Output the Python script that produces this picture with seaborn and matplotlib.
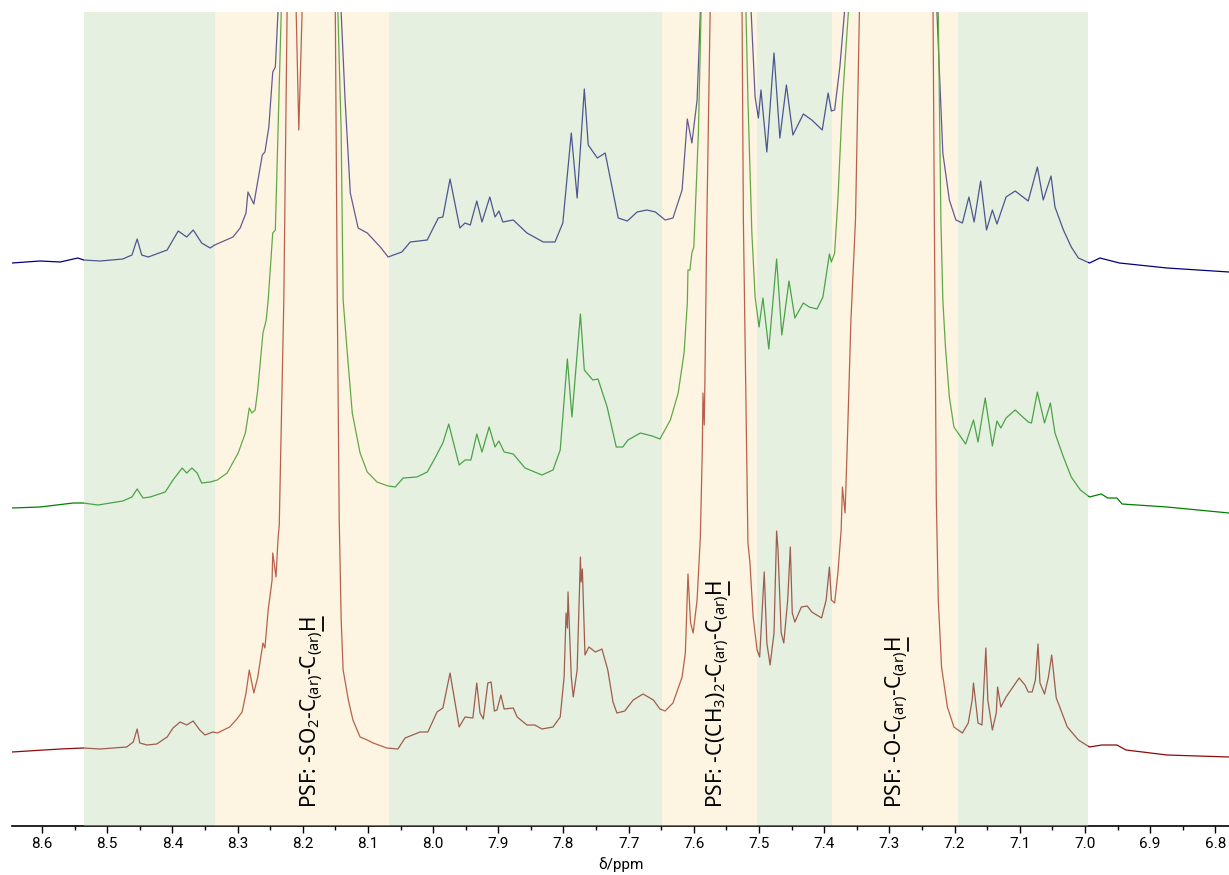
import matplotlib
matplotlib.use("Agg")
import matplotlib.pyplot as plt
import pandas as pd
import seaborn as sns
from matplotlib.lines import Line2D
from matplotlib.transforms import IdentityTransform
from matplotlib.ticker import MultipleLocator, FormatStrFormatter

# ---------------- data (ppm, stacked intensity) ----------------
blue_trace = [
    (8.646, 563), (8.603, 565), (8.572, 564), (8.545, 568), (8.536, 566), (8.511, 565), (8.476, 567), (8.462, 571), (8.454, 587), (8.447, 571),
    (8.437, 569), (8.408, 576), (8.391, 595), (8.378, 589), (8.368, 596), (8.355, 583), (8.342, 578), (8.335, 581), (8.307, 589), (8.296, 598),
    (8.287, 613), (8.284, 634), (8.275, 622), (8.262, 671), (8.258, 674), (8.252, 699), (8.246, 754), (8.242, 759), (8.238, 813), (8.235, 1400),
    (8.144, 1400), (8.141, 813), (8.135, 726), (8.127, 633), (8.115, 598), (8.101, 593), (8.081, 579), (8.069, 569), (8.048, 574), (8.035, 584),
    (8.009, 586), (7.992, 608), (7.985, 609), (7.974, 647), (7.959, 598), (7.951, 603), (7.943, 601), (7.933, 625), (7.925, 604), (7.913, 629),
    (7.905, 609), (7.899, 615), (7.893, 604), (7.877, 606), (7.856, 593), (7.831, 584), (7.813, 584), (7.801, 603), (7.788, 693), (7.779, 628),
    (7.768, 737), (7.762, 681), (7.748, 668), (7.736, 673), (7.716, 608), (7.702, 605), (7.687, 614), (7.672, 616), (7.659, 614), (7.644, 606),
    (7.632, 608), (7.618, 636), (7.610, 707), (7.603, 683), (7.595, 726), (7.590, 813), (7.587, 1400), (7.515, 1400), (7.512, 813), (7.506, 729),
    (7.501, 708), (7.497, 736), (7.488, 674), (7.477, 773), (7.468, 688), (7.458, 741), (7.448, 691), (7.432, 712), (7.419, 706), (7.403, 696),
    (7.394, 733), (7.389, 715), (7.384, 716), (7.376, 759), (7.369, 813), (7.366, 1400), (7.230, 1400), (7.227, 813), (7.218, 673), (7.208, 626),
    (7.198, 606), (7.188, 603), (7.178, 629), (7.170, 604), (7.160, 645), (7.151, 596), (7.142, 616), (7.135, 602), (7.121, 629), (7.107, 635),
    (7.087, 625), (7.073, 659), (7.064, 626), (7.052, 650), (7.046, 619), (7.033, 596), (7.021, 579), (7.010, 568), (6.993, 563), (6.977, 568),
    (6.947, 563), (6.874, 558), (6.779, 554),
]

green_trace = [
    (8.646, 318), (8.603, 319), (8.552, 323), (8.537, 323), (8.514, 321), (8.476, 325), (8.462, 329), (8.454, 337), (8.445, 328), (8.434, 329),
    (8.411, 334), (8.399, 346), (8.385, 358), (8.378, 353), (8.370, 358), (8.362, 353), (8.355, 343), (8.342, 344), (8.331, 346), (8.316, 353),
    (8.299, 373), (8.288, 393), (8.282, 418), (8.278, 413), (8.273, 416), (8.269, 436), (8.261, 493), (8.256, 506), (8.253, 526), (8.246, 593),
    (8.242, 596), (8.238, 693), (8.233, 813), (8.230, 1400), (8.149, 1400), (8.146, 813), (8.141, 693), (8.138, 526), (8.132, 476), (8.124, 413),
    (8.112, 373), (8.101, 354), (8.086, 344), (8.069, 340), (8.058, 339), (8.046, 348), (8.025, 349), (8.009, 354), (7.997, 368), (7.985, 383),
    (7.976, 402), (7.960, 361), (7.951, 366), (7.942, 366), (7.933, 392), (7.925, 374), (7.914, 399), (7.905, 379), (7.899, 385), (7.891, 374),
    (7.877, 372), (7.859, 358), (7.833, 351), (7.816, 356), (7.805, 376), (7.794, 467), (7.787, 409), (7.774, 512), (7.768, 456), (7.755, 446),
    (7.747, 447), (7.733, 419), (7.719, 379), (7.709, 379), (7.701, 386), (7.682, 393), (7.664, 390), (7.652, 387), (7.636, 406), (7.624, 433),
    (7.615, 473), (7.610, 523), (7.609, 556), (7.606, 556), (7.603, 573), (7.600, 579), (7.593, 693), (7.589, 813), (7.586, 1400), (7.523, 1400),
    (7.520, 813), (7.517, 726), (7.511, 593), (7.506, 529), (7.500, 499), (7.494, 528), (7.485, 477), (7.473, 567), (7.465, 491), (7.454, 545),
    (7.445, 508), (7.432, 523), (7.423, 519), (7.411, 517), (7.402, 529), (7.392, 572), (7.389, 564), (7.384, 573), (7.379, 626), (7.372, 726),
    (7.363, 813), (7.360, 1400), (7.228, 1400), (7.225, 813), (7.221, 606), (7.218, 526), (7.214, 479), (7.208, 429), (7.201, 399), (7.183, 382),
    (7.171, 406), (7.164, 384), (7.153, 428), (7.142, 380), (7.135, 405), (7.129, 398), (7.121, 408), (7.107, 416), (7.087, 404), (7.082, 403),
    (7.073, 434), (7.062, 403), (7.053, 423), (7.046, 393), (7.033, 369), (7.021, 349), (7.007, 336), (6.993, 329), (6.975, 332), (6.965, 328),
    (6.951, 328), (6.943, 322), (6.874, 319), (6.779, 313),
]

red_trace = [
    (8.646, 74), (8.572, 77), (8.537, 78), (8.511, 77), (8.470, 79), (8.460, 84), (8.454, 97), (8.450, 83), (8.439, 81), (8.424, 82),
    (8.408, 89), (8.399, 98), (8.388, 104), (8.378, 101), (8.368, 105), (8.358, 96), (8.350, 91), (8.338, 94), (8.331, 93), (8.312, 99),
    (8.301, 107), (8.293, 114), (8.287, 133), (8.282, 156), (8.275, 133), (8.269, 149), (8.261, 183), (8.258, 178), (8.253, 216), (8.247, 246),
    (8.246, 273), (8.241, 249), (8.238, 286), (8.236, 301), (8.229, 526), (8.224, 813), (8.221, 1400), (8.213, 1400), (8.210, 813), (8.206, 696),
    (8.201, 813), (8.198, 1400), (8.154, 1400), (8.150, 813), (8.147, 526), (8.144, 306), (8.141, 206), (8.138, 156), (8.130, 126), (8.123, 106),
    (8.112, 89), (8.101, 86), (8.092, 83), (8.071, 78), (8.054, 77), (8.043, 88), (8.020, 94), (8.008, 94), (7.994, 114), (7.985, 118),
    (7.974, 153), (7.960, 99), (7.951, 109), (7.939, 108), (7.933, 143), (7.928, 113), (7.923, 107), (7.916, 143), (7.911, 144), (7.906, 115),
    (7.902, 116), (7.896, 131), (7.891, 117), (7.877, 118), (7.871, 109), (7.856, 101), (7.844, 101), (7.833, 97), (7.816, 99), (7.805, 109),
    (7.799, 149), (7.796, 213), (7.794, 198), (7.793, 234), (7.788, 149), (7.785, 129), (7.779, 156), (7.776, 223), (7.774, 269), (7.773, 244),
    (7.771, 257), (7.767, 171), (7.761, 179), (7.751, 174), (7.741, 177), (7.732, 156), (7.724, 124), (7.718, 113), (7.706, 115), (7.693, 126),
    (7.678, 132), (7.662, 126), (7.652, 117), (7.644, 115), (7.632, 123), (7.618, 149), (7.613, 173), (7.609, 252), (7.605, 203), (7.601, 193),
    (7.595, 226), (7.590, 289), (7.587, 376), (7.586, 433), (7.584, 401), (7.583, 446), (7.580, 606), (7.575, 813), (7.572, 1400), (7.529, 1400),
    (7.526, 813), (7.524, 606), (7.518, 326), (7.517, 283), (7.514, 264), (7.509, 209), (7.503, 176), (7.499, 169), (7.492, 254), (7.488, 183),
    (7.483, 161), (7.477, 193), (7.473, 295), (7.471, 278), (7.466, 193), (7.462, 183), (7.456, 226), (7.452, 279), (7.449, 213), (7.445, 204),
    (7.435, 219), (7.426, 220), (7.419, 214), (7.404, 208), (7.397, 226), (7.392, 259), (7.389, 226), (7.384, 223), (7.379, 253), (7.374, 296),
    (7.372, 339), (7.368, 313), (7.365, 373), (7.359, 506), (7.352, 606), (7.346, 813), (7.343, 1400), (7.236, 1400), (7.233, 813), (7.231, 606),
    (7.228, 326), (7.225, 226), (7.220, 159), (7.211, 119), (7.201, 99), (7.188, 93), (7.179, 103), (7.173, 126), (7.171, 143), (7.168, 126),
    (7.164, 103), (7.158, 101), (7.155, 139), (7.152, 178), (7.149, 126), (7.142, 96), (7.136, 113), (7.134, 139), (7.129, 119), (7.121, 129),
    (7.101, 148), (7.092, 141), (7.087, 134), (7.081, 134), (7.076, 146), (7.072, 182), (7.069, 143), (7.062, 132), (7.056, 149), (7.051, 171),
    (7.047, 146), (7.044, 128), (7.041, 123), (7.027, 99), (7.010, 86), (6.993, 79), (6.974, 81), (6.951, 81), (6.937, 76), (6.874, 71),
    (6.779, 69),
]

# shaded assignment regions (ppm from, ppm to) and their kind
region_bounds = [(8.536, 8.335), (8.335, 8.068), (8.068, 7.649), (7.649, 7.503),
                 (7.503, 7.388), (7.388, 7.194), (7.194, 6.995)]
region_kinds = ["other", "psf", "other", "psf", "other", "psf", "other"]

label_ppm = [8.186, 7.563, 7.288]
label_texts = [
    "PSF: -SO$_2$-C$_{\\mathrm{(ar)}}$-C$_{\\mathrm{(ar)}}$H",
    "PSF: -C(CH$_3$)$_2$-C$_{\\mathrm{(ar)}}$-C$_{\\mathrm{(ar)}}$H",
    "PSF: -O-C$_{\\mathrm{(ar)}}$-C$_{\\mathrm{(ar)}}$H",
]

# ---------------- style ----------------
sns.set_theme(style="white")
plt.rcParams['font.family'] = ['Noto Sans', 'DejaVu Sans']
plt.rcParams['mathtext.fontset'] = 'custom'
plt.rcParams['mathtext.rm'] = 'Noto Sans'
plt.rcParams['mathtext.it'] = 'Noto Sans:italic'
plt.rcParams['mathtext.bf'] = 'Noto Sans:bold'

fig = plt.figure(figsize=(12.29, 8.75), dpi=100)
ax = fig.add_axes([12 / 1229, 49 / 875, 1217 / 1229, 814 / 875])

trace_colors = {"blue": "#00007a", "green": "#008000", "red": "#8b0a0a"}
for name, pts in [("blue", blue_trace), ("green", green_trace), ("red", red_trace)]:
    df = pd.DataFrame(pts, columns=["ppm", "intensity"])
    sns.lineplot(data=df, x="ppm", y="intensity", sort=False, estimator=None,
                 color=trace_colors[name], linewidth=0.9, ax=ax, zorder=2)

kind_colors = {"other": "#bedab2", "psf": "#fae6b4"}
for (a, b), kind in zip(region_bounds, region_kinds):
    ax.axvspan(b, a, color=kind_colors[kind], alpha=0.4, lw=0, zorder=3)

label_artists = []
for xp, txt in zip(label_ppm, label_texts):
    t = ax.text(xp, 18, txt, rotation=90, ha="center", va="bottom", fontsize=15,
                color="black", zorder=5)
    label_artists.append(t)

ax.set_xlim(8.646, 6.779)
ax.set_ylim(0, 814)
ax.set_yticks([])
ax.set_ylabel("")
for s in ["top", "left", "right"]:
    ax.spines[s].set_visible(False)
ax.spines["bottom"].set_color("black")
ax.spines["bottom"].set_linewidth(1.2)

ax.xaxis.set_major_locator(MultipleLocator(0.1))
ax.xaxis.set_minor_locator(MultipleLocator(0.05))
ax.xaxis.set_major_formatter(FormatStrFormatter("%.1f"))
ax.tick_params(axis="x", which="major", bottom=True, direction="out", length=5,
               width=1.0, color="black", labelsize=11, pad=3, labelcolor="black",
               labelfontfamily="Roboto")
ax.tick_params(axis="x", which="minor", bottom=True, direction="out", length=3,
               width=1.0, color="black")
ax.set_xlabel("δ/ppm", fontsize=11, family="Roboto", color="black", labelpad=4)

# underline the final "H" of each rotated label (just below its baseline)
fig.canvas.draw()
renderer = fig.canvas.get_renderer()
for t in label_artists:
    bb = t.get_window_extent(renderer)
    ux = bb.x1 - 2.5
    top = bb.y1 - 1.5
    fig.add_artist(Line2D([ux, ux], [top - 13.5, top], transform=IdentityTransform(),
                          color="black", lw=1.3, zorder=6))

fig.savefig("out.png", dpi=100)
